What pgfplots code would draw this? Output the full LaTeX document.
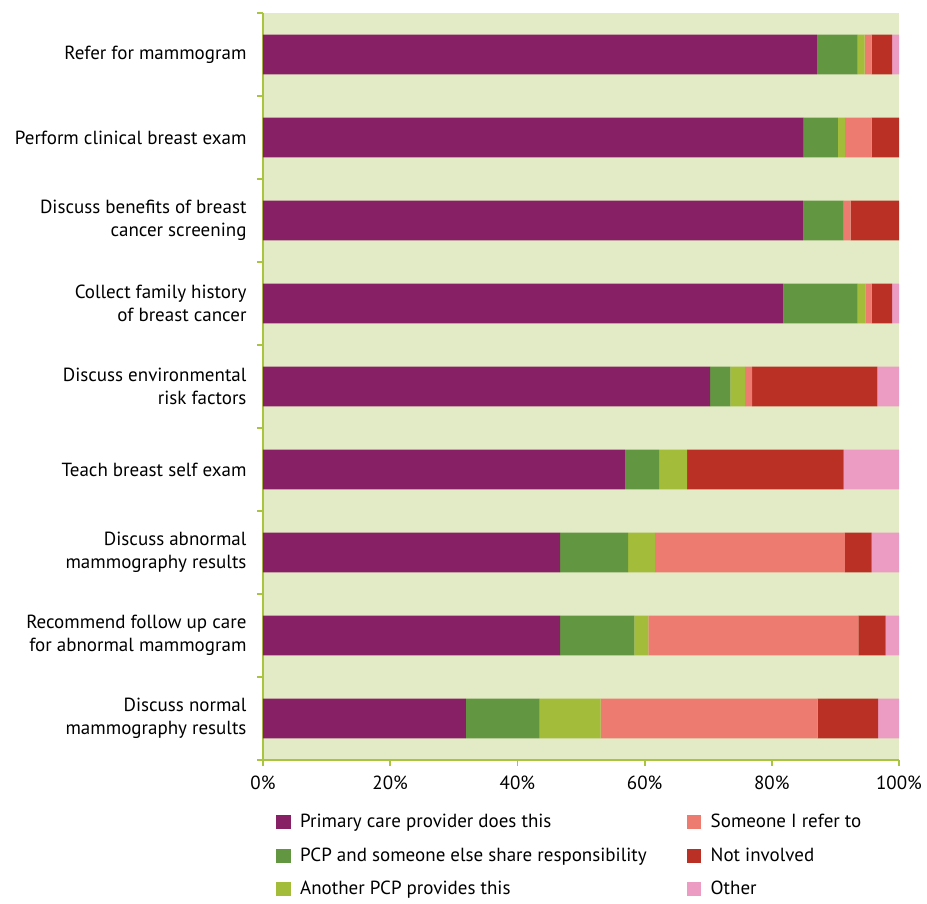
\documentclass[border=0pt]{standalone}
\usepackage{fontspec}
\setmainfont{PT Sans}
\usepackage{pgfplots}
\pgfplotsset{compat=1.18}
\definecolor{cPur}{HTML}{872064}
\definecolor{cGrn}{HTML}{639640}
\definecolor{cLgr}{HTML}{A3BC3A}
\definecolor{cSal}{HTML}{EE7B70}
\definecolor{cRed}{HTML}{BA3025}
\definecolor{cPnk}{HTML}{EC9CC2}
\definecolor{cBg}{HTML}{E3EAC6}
\definecolor{cAx}{HTML}{A9C43F}
% y: 0 = Discuss normal (bottom) ... 8 = Refer for mammogram (top)
\pgfplotstableread{
y  pri   shr   ano   ref   not   oth
8  87.1  6.4   1.1   1.1   3.2   1.1
7  85.0  5.4   1.1   4.2   4.3   0.0
6  84.9  6.4   0.0   1.1   7.6   0.0
5  81.8  11.7  1.2   1.0   3.2   1.1
4  70.3  3.2   2.3   1.1   19.7  3.4
3  56.9  5.4   4.4   0.0   24.6  8.7
2  46.7  10.7  4.2   29.9  4.2   4.3
1  46.7  11.7  2.2   33.0  4.3   2.1
0  31.9  11.6  9.6   34.1  9.5   3.3
}\datatable
\newcommand{\chartfont}{\fontsize{19bp}{23bp}\selectfont}
\begin{document}
\chartfont
\begin{tikzpicture}
\begin{axis}[
  scale only axis, width=636bp, height=747bp,
  xbar stacked, bar width=0.48,
  xmin=0, xmax=100, ymin=-0.5, ymax=8.5,
  axis background/.style={fill=cBg},
  axis lines*=left,
  axis line style={draw=cAx, line width=1.8bp},
  tick align=outside,
  major tick length=6bp, minor tick length=6bp,
  tick style={draw=cAx, line width=1.8bp},
  xtick={0,20,...,100},
  xticklabel={\pgfmathprintnumber{\tick}\%},
  /pgf/number format/assume math mode=true,
  ytick={0,...,8},
  major y tick style={draw=none},
  minor ytick={-0.5,0.5,...,8.5},
  minor y tick style={draw=cAx, line width=1.8bp},
  yticklabels={
    {Discuss normal\\mammography results},
    {Recommend follow up care\\for abnormal mammogram},
    {Discuss abnormal\\mammography results},
    {Teach breast self exam},
    {Discuss environmental\\risk factors},
    {Collect family history\\of breast cancer},
    {Discuss benefits of breast\\cancer screening},
    {Perform clinical breast exam},
    {Refer for mammogram}},
  yticklabel style={align=right, font=\chartfont, xshift=-4bp},
  xticklabel style={font=\chartfont, yshift=-3bp},
  legend columns=3, transpose legend,
  legend style={draw=none, fill=none, at={(0,0)}, anchor=north west,
    xshift=10bp, yshift=-50bp,
    font=\chartfont,
    /tikz/every even column/.append style={column sep=38bp},
    row sep=13bp},
  legend cell align=left,
  legend image code/.code={\fill[#1] (0bp,-7bp) rectangle (14.5bp,7bp); \path (22bp,0bp);},
]
\addplot[fill=cPur, draw=none] table[x=pri, y=y] {\datatable};
\addplot[fill=cGrn, draw=none] table[x=shr, y=y] {\datatable};
\addplot[fill=cLgr, draw=none] table[x=ano, y=y] {\datatable};
\addplot[fill=cSal, draw=none] table[x=ref, y=y] {\datatable};
\addplot[fill=cRed, draw=none] table[x=not, y=y] {\datatable};
\addplot[fill=cPnk, draw=none] table[x=oth, y=y] {\datatable};
\legend{Primary care provider does this, PCP and someone else share responsibility, Another PCP provides this, Someone I refer to, Not involved, Other}
\coordinate (tl) at (rel axis cs:0,1);
\end{axis}
\pgfresetboundingbox
\path[use as bounding box] ([xshift=-263bp,yshift=13bp]tl) rectangle ++(927bp,-904bp);
\end{tikzpicture}
\end{document}
